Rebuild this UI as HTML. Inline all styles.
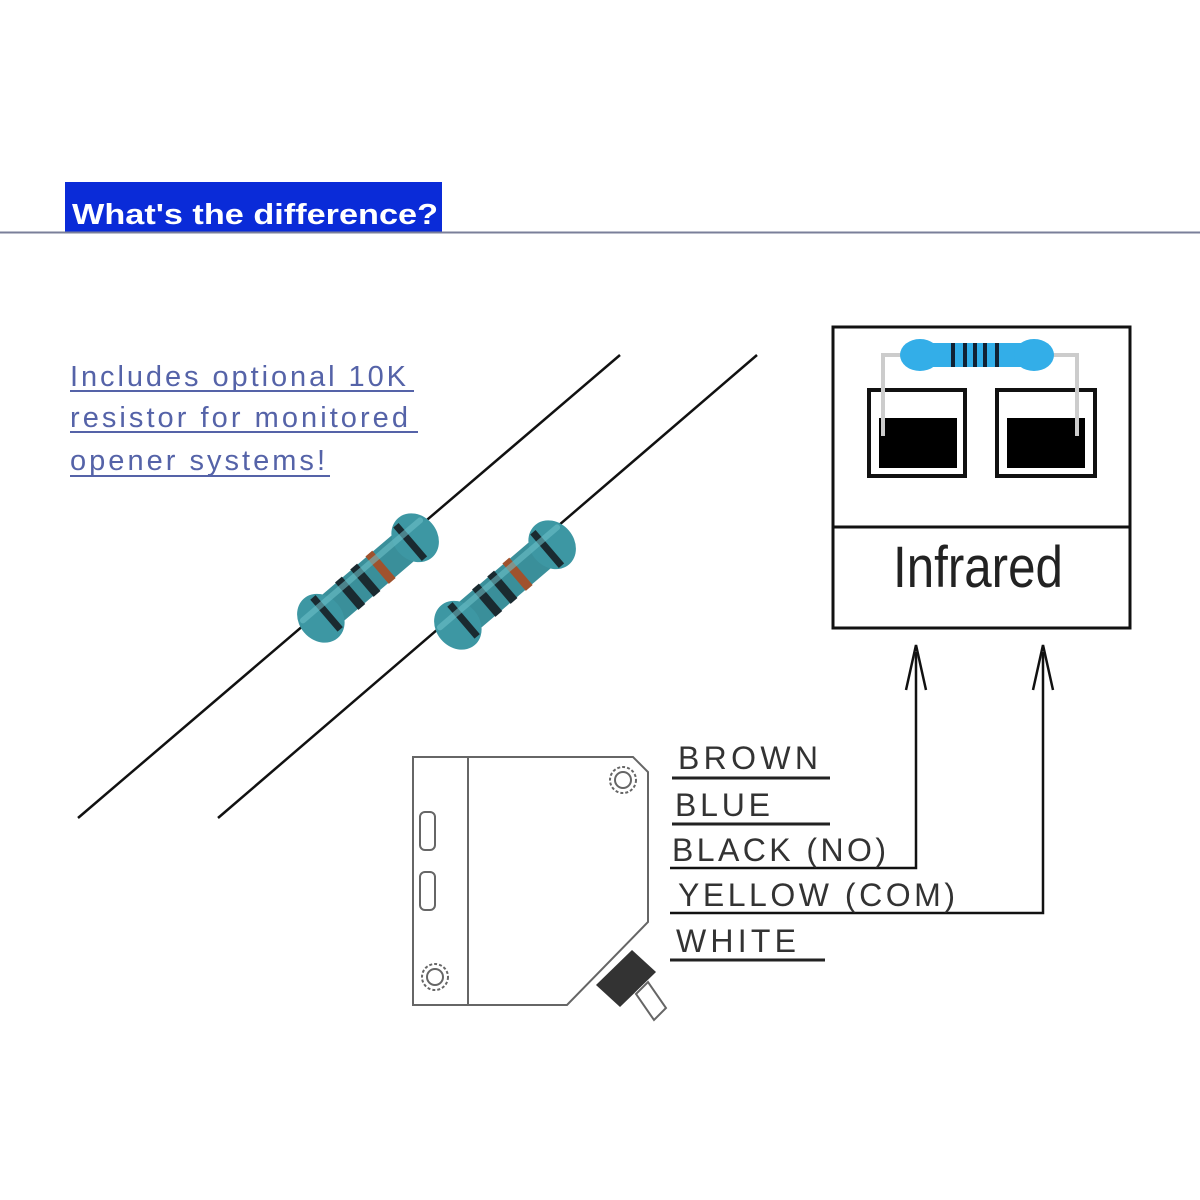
<!DOCTYPE html>
<html><head><style>
body{margin:0;background:#fff;}
svg{display:block}
</style></head><body>
<svg width="1200" height="1200" viewBox="0 0 1200 1200" xmlns="http://www.w3.org/2000/svg">
<defs>
<g id="res">
  <rect x="-82" y="-17" width="164" height="34" rx="17" fill="#3a8f9a"/>
  <ellipse cx="-62" cy="0" rx="22" ry="26" fill="#3d97a3"/>
  <ellipse cx="62" cy="0" rx="22" ry="26" fill="#3d97a3"/>
  <rect x="-58" y="-21" width="7" height="42" fill="#1a2a30"/>
  <rect x="-28" y="-18" width="9" height="36" fill="#1a2a30"/>
  <rect x="-8" y="-18" width="9" height="36" fill="#1a2a30"/>
  <rect x="12" y="-18" width="9" height="36" fill="#a0522d"/>
  <rect x="52" y="-22" width="7" height="44" fill="#1a2a30"/>
  <rect x="-80" y="-13" width="160" height="6" rx="3" fill="#6cc0c8" opacity="0.6"/>
</g>
</defs>
<rect x="65" y="182" width="377" height="50" fill="#0a2bd8"/>
<text x="72" y="224" font-family="Liberation Sans, sans-serif" font-weight="bold" font-size="29" fill="#fff" textLength="366" lengthAdjust="spacingAndGlyphs">What's the difference?</text>
<line x1="0" y1="232.5" x2="1200" y2="232.5" stroke="#7a7f9a" stroke-width="2"/>
<g font-family="Liberation Sans, sans-serif" font-size="29" fill="#5563a8" lengthAdjust="spacingAndGlyphs">
<text x="70" y="386" textLength="336">Includes optional 10K</text>
<text x="70" y="427" textLength="338">resistor for monitored</text>
<text x="70" y="470" textLength="255">opener systems!</text>
</g>
<g stroke="#5563a8" stroke-width="2">
<line x1="70" y1="391" x2="414" y2="391"/>
<line x1="70" y1="432" x2="418" y2="432"/>
<line x1="70" y1="476" x2="330" y2="476"/>
</g>
<line x1="78" y1="818" x2="620" y2="355" stroke="#111" stroke-width="2.5"/>
<line x1="218" y1="818" x2="757" y2="355" stroke="#111" stroke-width="2.5"/>
<use href="#res" transform="translate(368,578) rotate(-40.5)"/>
<use href="#res" transform="translate(505,585) rotate(-40.5)"/>
<!-- infrared box -->
<rect x="833" y="327" width="297" height="301" fill="#fff" stroke="#111" stroke-width="3"/>
<line x1="833" y1="527" x2="1130" y2="527" stroke="#111" stroke-width="3"/>
<text x="978" y="587" text-anchor="middle" font-family="Liberation Sans Narrow, Liberation Sans, sans-serif" font-size="58" fill="#222" transform="translate(978,0) scale(0.85,1) translate(-978,0)">Infrared</text>
<rect x="869" y="390" width="96" height="86" fill="#fff" stroke="#111" stroke-width="4"/>
<rect x="879" y="418" width="78" height="50" fill="#000"/>
<rect x="997" y="390" width="98" height="86" fill="#fff" stroke="#111" stroke-width="4"/>
<rect x="1007" y="418" width="78" height="50" fill="#000"/>
<polyline points="883,436 883,355 905,355" fill="none" stroke="#ccc" stroke-width="4"/>
<polyline points="1077,436 1077,355 1052,355" fill="none" stroke="#ccc" stroke-width="4"/>
<rect x="903" y="343" width="150" height="24" rx="12" fill="#33aee8"/>
<ellipse cx="920" cy="355" rx="20" ry="16" fill="#33aee8"/>
<ellipse cx="1034" cy="355" rx="20" ry="16" fill="#33aee8"/>
<g fill="#123">
<rect x="951" y="343" width="4" height="24"/><rect x="963" y="343" width="4" height="24"/><rect x="973" y="343" width="4" height="24"/><rect x="983" y="343" width="4" height="24"/><rect x="995" y="343" width="4" height="24"/>
</g>
<!-- arrows -->
<g stroke="#111" stroke-width="2.5" fill="none">
<polyline points="670,868 916,868 916,652"/>
<polyline points="670,913 1043,913 1043,652"/>
<polyline points="906,690 916,645 926,690"/>
<polyline points="1033,690 1043,645 1053,690"/>
</g>
<!-- labels -->
<g font-family="Liberation Sans, sans-serif" font-size="32" fill="#333" lengthAdjust="spacingAndGlyphs">
<text x="678" y="769" textLength="140">BROWN</text>
<text x="675" y="816" textLength="95">BLUE</text>
<text x="672" y="861" textLength="214">BLACK (NO)</text>
<text x="678" y="906" textLength="277">YELLOW (COM)</text>
<text x="676" y="952" textLength="120">WHITE</text>
</g>
<g stroke="#222" stroke-width="3">
<line x1="672" y1="778" x2="830" y2="778"/>
<line x1="672" y1="824" x2="830" y2="824"/>
<line x1="670" y1="960" x2="825" y2="960"/>
</g>
<!-- sensor -->
<g stroke="#666" stroke-width="2" fill="#fff">
<polygon points="413,757 633,757 648,772 648,922 567,1005 413,1005"/>
<line x1="468" y1="757" x2="468" y2="1005"/>
<rect x="420" y="812" width="15" height="38" rx="5"/>
<rect x="420" y="872" width="15" height="38" rx="5"/>
<circle cx="623" cy="780" r="13" stroke-dasharray="3,2"/>
<circle cx="623" cy="780" r="8"/>
<circle cx="435" cy="977" r="13" stroke-dasharray="3,2"/>
<circle cx="435" cy="977" r="8"/>
</g>
<polygon points="596,985 632,950 656,972 620,1007" fill="#333"/>
<polygon points="636,994 648,982 666,1008 654,1020" fill="#fff" stroke="#666" stroke-width="2"/>
</svg>
</body></html>
